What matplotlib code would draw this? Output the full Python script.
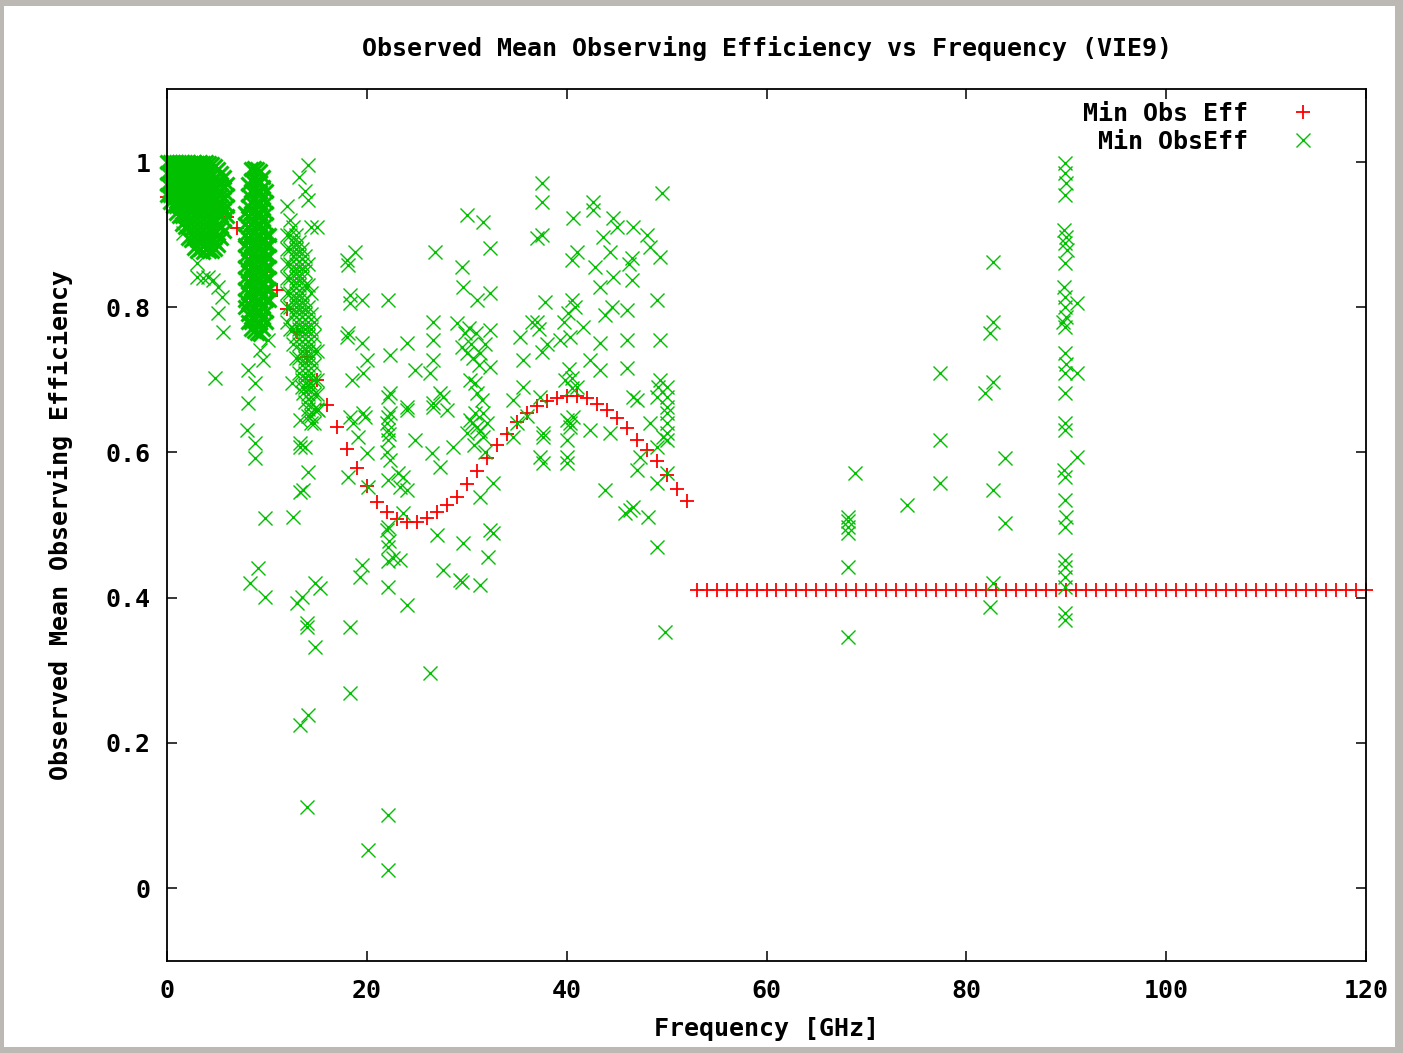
"""Observed mean observing efficiency vs frequency (VIE9), gnuplot-style scatter."""
import numpy as np
import matplotlib
matplotlib.use("Agg")
import matplotlib.pyplot as plt
from matplotlib.patches import Rectangle

# --- data -------------------------------------------------------------------
# red "+" series: one point per GHz
red_freq = list(range(0, 121))
red_eff = ([0.952, 0.950, 0.948, 0.945, 0.940, 0.933, 0.924, 0.909, 0.888, 0.868,
            0.848, 0.824, 0.797, 0.766, 0.731, 0.700, 0.665, 0.635, 0.605, 0.579,
            0.554, 0.532, 0.518, 0.508, 0.504, 0.504, 0.510, 0.518, 0.527, 0.539,
            0.556, 0.574, 0.592, 0.610, 0.626, 0.642, 0.654, 0.664, 0.671, 0.675,
            0.678, 0.678, 0.675, 0.667, 0.658, 0.648, 0.634, 0.617, 0.603, 0.588,
            0.569, 0.549, 0.533] + [0.41] * 68)

# green "x" series, dense clusters written column by column: (freq, [eff, ...])
cluster_a = [
    (0.0, [1.000, 0.985, 0.970, 0.955]),
    (0.3, [1.000, 0.985, 0.970, 0.955, 0.945]),
    (0.6, [1.000, 0.985, 0.970, 0.955, 0.940]),
    (0.9, [1.000, 0.985, 0.970, 0.955, 0.940, 0.930]),
    (1.2, [1.000, 0.985, 0.970, 0.955, 0.940, 0.925]),
    (1.5, [1.000, 0.985, 0.970, 0.955, 0.940, 0.925, 0.915]),
    (1.8, [1.000, 0.985, 0.970, 0.955, 0.940, 0.925, 0.910]),
    (2.1, [1.000, 0.985, 0.970, 0.955, 0.940, 0.925, 0.910, 0.895]),
    (2.4, [0.998, 0.983, 0.968, 0.953, 0.938, 0.923, 0.908, 0.893]),
    (2.7, [1.000, 0.985, 0.970, 0.955, 0.940, 0.925, 0.910, 0.895, 0.882]),
    (3.0, [0.998, 0.983, 0.968, 0.953, 0.938, 0.923, 0.908, 0.893, 0.878]),
    (3.3, [1.000, 0.985, 0.970, 0.955, 0.940, 0.925, 0.910, 0.895, 0.880]),
    (3.6, [0.998, 0.983, 0.968, 0.953, 0.938, 0.923, 0.908, 0.893, 0.876]),
    (3.9, [1.000, 0.985, 0.970, 0.955, 0.940, 0.925, 0.910, 0.895, 0.880]),
    (4.2, [0.998, 0.983, 0.968, 0.953, 0.938, 0.923, 0.908, 0.893, 0.878]),
    (4.5, [0.997, 0.982, 0.967, 0.952, 0.937, 0.922, 0.907, 0.892, 0.878]),
    (4.8, [0.995, 0.980, 0.965, 0.950, 0.935, 0.920, 0.905, 0.890, 0.880]),
    (5.1, [0.990, 0.975, 0.960, 0.945, 0.930, 0.915, 0.900, 0.885]),
    (5.4, [0.985, 0.970, 0.955, 0.940, 0.925, 0.910, 0.895]),
    (5.7, [0.980, 0.965, 0.950, 0.935, 0.920, 0.905]),
    (6.0, [0.970, 0.955, 0.940, 0.925]),
]
cluster_b = [
    (7.8, [0.930, 0.915, 0.900, 0.885, 0.870, 0.855, 0.840, 0.825, 0.810, 0.800]),
    (8.1, [0.970, 0.955, 0.940, 0.925, 0.910, 0.895, 0.880, 0.865, 0.850, 0.835, 0.820,
           0.805, 0.790, 0.780]),
    (8.4, [0.990, 0.975, 0.960, 0.945, 0.930, 0.915, 0.900, 0.885, 0.870, 0.855, 0.840,
           0.825, 0.810, 0.795, 0.780, 0.770]),
    (8.7, [0.992, 0.977, 0.962, 0.947, 0.932, 0.917, 0.902, 0.887, 0.872, 0.857, 0.842,
           0.827, 0.812, 0.797, 0.782, 0.767]),
    (9.0, [0.990, 0.975, 0.960, 0.945, 0.930, 0.915, 0.900, 0.885, 0.870, 0.855, 0.840,
           0.825, 0.810, 0.795, 0.780, 0.765]),
    (9.3, [0.988, 0.973, 0.958, 0.943, 0.928, 0.913, 0.898, 0.883, 0.868, 0.853, 0.838,
           0.823, 0.808, 0.793, 0.778, 0.763]),
    (9.6, [0.980, 0.965, 0.950, 0.935, 0.920, 0.905, 0.890, 0.875, 0.860, 0.845, 0.830,
           0.815, 0.800, 0.785, 0.770]),
    (9.9, [0.960, 0.945, 0.930, 0.915, 0.900, 0.885, 0.870, 0.855, 0.840, 0.825, 0.810,
           0.795, 0.780]),
    (10.2, [0.900, 0.885, 0.870, 0.855, 0.840, 0.825, 0.810]),
]
cluster_c = [
    (12.0, [0.940, 0.900, 0.880, 0.860, 0.840, 0.820, 0.800, 0.780]),
    (12.3, [0.920, 0.900, 0.880, 0.860, 0.840, 0.820, 0.800, 0.770]),
    (12.6, [0.910, 0.890, 0.870, 0.850, 0.830, 0.810, 0.790, 0.770, 0.750]),
    (12.9, [0.900, 0.880, 0.860, 0.840, 0.820, 0.800, 0.780, 0.760, 0.730]),
    (13.2, [0.980, 0.890, 0.870, 0.850, 0.830, 0.810, 0.790, 0.770, 0.750, 0.730, 0.710]),
    (13.5, [0.880, 0.860, 0.840, 0.820, 0.800, 0.780, 0.760, 0.740, 0.720, 0.700, 0.690]),
    (13.8, [0.960, 0.870, 0.850, 0.830, 0.810, 0.790, 0.770, 0.750, 0.730, 0.710, 0.690,
            0.670]),
    (14.1, [0.996, 0.948, 0.860, 0.830, 0.800, 0.780, 0.760, 0.740, 0.720, 0.700, 0.680,
            0.660, 0.650]),
    (14.4, [0.910, 0.820, 0.790, 0.770, 0.750, 0.730, 0.710, 0.690, 0.670, 0.650, 0.640]),
    (14.7, [0.780, 0.760, 0.740, 0.720, 0.700, 0.680, 0.660, 0.640]),
    (15.0, [0.910, 0.740, 0.700, 0.680, 0.660]),
]
# sparse green points (freq, eff)
sparse_low = [
    (1.6, 0.902), (3.5, 0.895), (3.0, 0.861), (3.0, 0.842), (3.6, 0.840), (4.1, 0.842),
    (4.6, 0.837), (5.1, 0.828), (5.5, 0.814), (5.1, 0.792), (5.6, 0.766), (4.8, 0.702),
    (8.1, 0.713), (8.8, 0.695), (8.1, 0.668), (9.3, 0.741), (9.6, 0.727), (10.1, 0.755),
    (8.0, 0.631), (8.8, 0.613), (8.8, 0.592), (9.8, 0.510), (9.1, 0.441), (8.3, 0.420),
    (9.8, 0.401), (13.3, 0.607), (14.1, 0.573), (13.3, 0.545), (12.6, 0.511), (13.0, 0.393),
    (13.5, 0.401), (15.3, 0.413), (14.0, 0.360), (14.8, 0.332), (13.3, 0.225), (14.1, 0.238),
    (14.0, 0.112), (13.6, 0.682), (13.8, 0.607), (13.6, 0.548), (14.8, 0.420), (14.0, 0.365),
    (12.5, 0.696), (14.3, 0.696), (15.1, 0.658), (13.3, 0.645), (13.3, 0.613),
]
sparse_mid = [
    (18.0, 0.865), (18.3, 0.806), (18.0, 0.759), (18.5, 0.700), (18.3, 0.649),
    (18.8, 0.876), (18.1, 0.858), (18.3, 0.817), (19.5, 0.810), (18.1, 0.764), (19.5, 0.751),
    (20.0, 0.727), (19.6, 0.709), (19.6, 0.654), (18.6, 0.640), (19.1, 0.621), (19.8, 0.649),
    (20.0, 0.599), (18.1, 0.566), (20.1, 0.552), (18.3, 0.360), (18.3, 0.268), (19.5, 0.445),
    (19.3, 0.428), (20.1, 0.052),
    (22.1, 0.810), (22.3, 0.734), (22.3, 0.682), (22.3, 0.654), (22.1, 0.676), (22.1, 0.649),
    (22.1, 0.631), (22.1, 0.617), (22.3, 0.590), (22.1, 0.562), (22.1, 0.497), (22.1, 0.470),
    (22.6, 0.455), (22.1, 0.450), (22.1, 0.415), (22.1, 0.100), (22.1, 0.025), (22.0, 0.600),
    (22.0, 0.640), (22.2, 0.625), (22.0, 0.493), (22.2, 0.478),
    (23.1, 0.571), (23.3, 0.552), (24.0, 0.548), (24.0, 0.663), (24.0, 0.751), (24.8, 0.714),
    (24.8, 0.617), (24.0, 0.658), (23.6, 0.566), (23.6, 0.516), (24.0, 0.390), (23.3, 0.452),
    (26.8, 0.876), (26.6, 0.780), (26.6, 0.755), (26.6, 0.727), (26.3, 0.709), (26.6, 0.663),
    (27.6, 0.676), (26.6, 0.668), (28.0, 0.658), (27.3, 0.682), (28.6, 0.607), (27.3, 0.580),
    (26.5, 0.599), (27.0, 0.486), (27.6, 0.438), (26.3, 0.296),
    (30.0, 0.927), (31.6, 0.917), (32.3, 0.882), (29.5, 0.855), (29.0, 0.778), (29.6, 0.828),
    (31.0, 0.810), (32.3, 0.820), (32.3, 0.769), (30.0, 0.737), (31.3, 0.737), (30.3, 0.700),
    (32.3, 0.718), (31.0, 0.682), (30.3, 0.645), (31.6, 0.654), (30.8, 0.696), (31.5, 0.672),
    (30.8, 0.654), (31.0, 0.635), (31.6, 0.621), (30.0, 0.627), (32.6, 0.558), (31.3, 0.539),
    (29.6, 0.475), (32.6, 0.489), (32.1, 0.456), (29.5, 0.421), (31.3, 0.417), (32.3, 0.493),
    (29.3, 0.424), (29.8, 0.765), (30.4, 0.750), (30.9, 0.765), (31.2, 0.720), (30.6, 0.730),
    (29.5, 0.745), (31.8, 0.750), (30.2, 0.772), (30.5, 0.640), (31.3, 0.630), (32.0, 0.640),
    (30.7, 0.610), (31.8, 0.600),
]
sparse_high = [
    (34.6, 0.672), (35.3, 0.759), (35.6, 0.727), (35.6, 0.690), (37.5, 0.971), (37.5, 0.945),
    (37.0, 0.895), (37.5, 0.900), (37.8, 0.807), (37.0, 0.780), (37.5, 0.738), (37.3, 0.676),
    (34.6, 0.621), (37.6, 0.621), (37.3, 0.594), (37.6, 0.627), (37.6, 0.585), (36.5, 0.780),
    (37.2, 0.770), (38.0, 0.750), (36.0, 0.650), (35.0, 0.640),
    (40.6, 0.923), (42.6, 0.945), (42.6, 0.934), (43.6, 0.897), (41.0, 0.876), (40.5, 0.865),
    (42.8, 0.855), (43.3, 0.828), (40.5, 0.810), (40.1, 0.792), (40.3, 0.759), (39.3, 0.755),
    (41.6, 0.773), (43.8, 0.789), (43.3, 0.751), (42.3, 0.727), (43.3, 0.713), (40.5, 0.702),
    (40.5, 0.689), (40.0, 0.645), (40.3, 0.635), (42.3, 0.631), (44.3, 0.627), (40.0, 0.594),
    (40.0, 0.585), (40.0, 0.617), (40.6, 0.649), (40.3, 0.640), (43.8, 0.548), (44.3, 0.876),
    (44.6, 0.923), (44.6, 0.842), (39.8, 0.700), (40.2, 0.715), (41.0, 0.690), (39.7, 0.780),
    (40.8, 0.800),
    (46.6, 0.910), (48.3, 0.883), (49.3, 0.869), (46.5, 0.868), (46.5, 0.837), (49.5, 0.957),
    (46.0, 0.796), (49.0, 0.810), (49.3, 0.755), (46.0, 0.755), (46.0, 0.716), (47.0, 0.672),
    (49.0, 0.676), (49.3, 0.700), (50.0, 0.654), (49.6, 0.621), (47.3, 0.594), (49.0, 0.607),
    (45.8, 0.516), (46.6, 0.525), (46.3, 0.521), (48.1, 0.511), (49.0, 0.470), (47.0, 0.576),
    (49.0, 0.558), (50.0, 0.571), (50.0, 0.627), (50.0, 0.617), (50.0, 0.640), (50.0, 0.663),
    (50.0, 0.676), (50.0, 0.690), (49.1, 0.690), (48.3, 0.640), (46.6, 0.676), (49.8, 0.353),
    (45.0, 0.910), (46.2, 0.860), (48.0, 0.900), (44.5, 0.800),
]
sparse_far = [
    (68.2, 0.511), (68.2, 0.505), (68.2, 0.497), (68.2, 0.489), (68.2, 0.442), (68.2, 0.346),
    (68.9, 0.571), (74.1, 0.528), (77.4, 0.709), (77.4, 0.617), (77.4, 0.558), (82.7, 0.862),
    (82.7, 0.780), (82.4, 0.764), (82.7, 0.697), (81.9, 0.682), (83.9, 0.592), (82.7, 0.548),
    (83.9, 0.503), (82.7, 0.420), (82.4, 0.387),
    (89.9, 0.999), (89.9, 0.985), (90.0, 0.971), (89.9, 0.955), (89.8, 0.906), (90.0, 0.897),
    (89.9, 0.888), (90.1, 0.879), (89.9, 0.861), (89.8, 0.828), (89.9, 0.814), (89.9, 0.800),
    (90.0, 0.787), (89.7, 0.780), (89.9, 0.773), (91.1, 0.806), (89.9, 0.737), (90.0, 0.722),
    (89.9, 0.709), (91.1, 0.709), (89.9, 0.682), (89.9, 0.640), (89.9, 0.631), (91.1, 0.594),
    (89.8, 0.576), (89.9, 0.566), (89.9, 0.534), (90.0, 0.511), (89.9, 0.497), (89.9, 0.452),
    (89.9, 0.442), (89.9, 0.428), (89.9, 0.415), (89.9, 0.379), (89.9, 0.369),
]

xticks = [0, 20, 40, 60, 80, 100, 120]
yticks = [0, 0.2, 0.4, 0.6, 0.8, 1.0]
ytick_labels = ["0", "0.2", "0.4", "0.6", "0.8", "1"]

# --- assemble green series ----------------------------------------------------
dx, dy = [], []   # the two saturated low-frequency blobs
for cl in (cluster_a, cluster_b):
    for f, ys in cl:
        dx += [f] * len(ys); dy += ys
sx, sy = [], []   # everything else
for f, ys in cluster_c:
    sx += [f] * len(ys); sy += ys
for pts in (sparse_low, sparse_mid, sparse_high, sparse_far):
    sx += [p[0] for p in pts]; sy += [p[1] for p in pts]

# --- figure ---------------------------------------------------------------------
W, H = 1403, 1053
fig = plt.figure(figsize=(W / 100, H / 100), dpi=100, facecolor="#bcb8b4")
fig.patches.append(Rectangle((4 / W, 6 / H), 1391 / W, 1041 / H, transform=fig.transFigure,
                             facecolor="white", edgecolor="none", zorder=-5))
ax = fig.add_axes([167 / W, 92.4 / H, 1199 / W, 871.2 / H])
ax.set_facecolor("white")

FS = 18
FONT = dict(family="DejaVu Sans Mono", weight="bold", size=FS)
GREEN = "#00c000"

ax.plot(red_freq, red_eff, linestyle="none", marker="+", ms=10, mew=1.3,
        color="#ff0000", label="Min Obs Eff", clip_on=False, zorder=2)
# overlapping crosses in the crowded low-frequency region merge into solid blobs
ax.plot(dx, dy, linestyle="none", marker="x", ms=10.5, mew=2.2,
        color=GREEN, clip_on=False, zorder=3)
ax.plot(sx, sy, linestyle="none", marker="x", ms=10.5, mew=1.0,
        color=GREEN, label=" Min ObsEff", clip_on=False, zorder=3)

ax.set_xlim(0, 120); ax.set_ylim(-0.1, 1.1)
ax.set_xticks(xticks); ax.set_yticks(yticks)
ax.set_yticklabels(ytick_labels)
ax.tick_params(direction="in", length=7, width=1.1, top=True, right=True,
               labelsize=FS, colors="black")
ax.tick_params(axis="x", pad=13.5)
ax.tick_params(axis="y", pad=12)
for lab in ax.get_xticklabels() + ax.get_yticklabels():
    lab.set_fontfamily("DejaVu Sans Mono"); lab.set_fontweight("bold")
for s in ax.spines.values():
    s.set_linewidth(1.3)
    s.set_zorder(4)

ax.set_title("Observed Mean Observing Efficiency vs Frequency (VIE9)", pad=24, **FONT)
ax.set_xlabel("Frequency [GHz]", labelpad=10, **FONT)
ax.set_ylabel("Observed Mean Observing Efficiency", labelpad=23, **FONT)

leg = ax.legend(loc="upper right", bbox_to_anchor=(0.981, 1.0), frameon=False,
                markerfirst=False, prop=dict(family="DejaVu Sans Mono", weight="bold", size=FS),
                handlelength=2.2, handletextpad=1.1, labelspacing=0.15, borderaxespad=0.1)

fig.savefig("out.png", dpi=100, facecolor=fig.get_facecolor())
